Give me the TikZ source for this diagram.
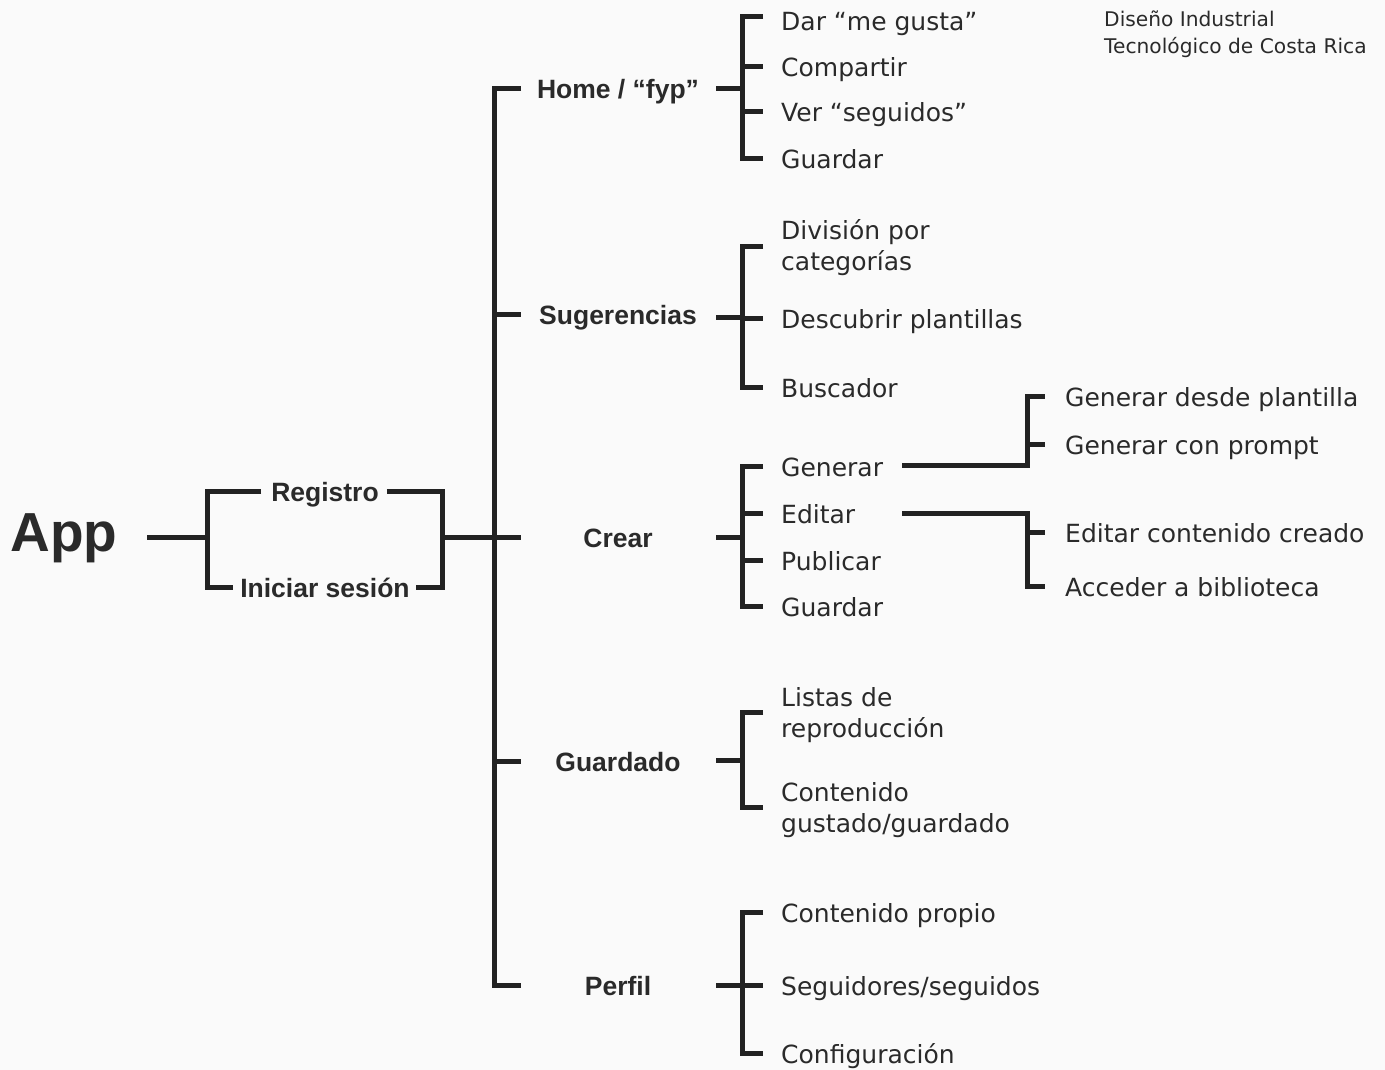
\documentclass[tikz,border=0pt]{standalone}
\usepackage{fontspec}
\setmainfont{DejaVu Sans}
\newfontfamily\labfont{Liberation Sans}
\definecolor{ink}{HTML}{2A2A2A}
\definecolor{lnc}{HTML}{222222}
\definecolor{bgc}{HTML}{FAFAFA}
\newcommand\twolines[2]{\begin{tabular}[t]{@{}l@{}}#1\\#2\end{tabular}}
\tikzset{
  ln/.style={line width=5pt, draw=lnc},
  leaf/.style={anchor=west, inner sep=0pt, text=ink, font=\fontsize{25}{31}\selectfont, text height=22pt, text depth=2pt},
  leaftwo/.style={leaf, text height=22pt, text depth=34pt},
  lab/.style={inner sep=0pt, text=ink, font=\labfont\bfseries\fontsize{26.5}{30}\selectfont, text height=22pt, text depth=2pt},
  credit/.style={anchor=base west, inner sep=0pt, text=ink, font=\fontsize{20.2}{27}\selectfont},
  bigtitle/.style={anchor=base, inner sep=0pt, text=ink, font=\labfont\bfseries\fontsize{55}{60}\selectfont}
}
\begin{document}
\begin{tikzpicture}[x=1pt, y=-1pt]
\useasboundingbox (0,0) rectangle (1385,1070);
\fill[bgc] (0,0) rectangle (1385,1070);

% credit
\node[credit] (cr) at (1104,27) {\twolines{Diseño Industrial}{Tecnológico de Costa Rica}};

% App and login
\node[bigtitle] (app) at (64,551) {App};
\node[lab] (reg) at (325,491) {Registro};
\node[lab] (ini) at (325,587) {Iniciar sesión};
\coordinate (appout) at (147,537);
\coordinate (bl) at (207,537);
\coordinate (br) at (442,537);
\draw[ln] (appout) -- (bl);
\draw[ln] ([xshift=-10pt]reg.west) -| (bl) |- ([xshift=-7pt]ini.west);
\draw[ln] ([xshift=8pt]reg.east) -| (br) |- ([xshift=6pt]ini.east);

% trunk
\coordinate (tm) at (494,537);
\coordinate (t1) at (521,89);
\coordinate (t2) at (521,314);
\coordinate (t3) at (521,537);
\coordinate (t4) at (521,761);
\coordinate (t5) at (521,985);
\draw[ln] (t1) -| (tm) |- (t5);
\draw[ln] (tm |- t2) -- (t2);
\draw[ln] (br) -- (t3);
\draw[ln] (tm |- t4) -- (t4);

% section labels
\node[lab] (home) at (618,89) {Home / “fyp”};
\node[lab] (sug) at (618,314) {Sugerencias};
\node[lab] (crear) at (618,537) {Crear};
\node[lab] (guard) at (618,761) {Guardado};
\node[lab] (perf) at (618,985) {Perfil};

% Home group
\coordinate (hl) at (716,89);
\coordinate (hb) at (742,89);
\node[leaf] (d1) at (781,21) {Dar “me gusta”};
\node[leaf] (d2) at (781,67) {Compartir};
\node[leaf] (d3) at (781,112) {Ver “seguidos”};
\node[leaf] (d4) at (781,159) {Guardar};
\draw[ln] (hl) -- (hb);
\draw[ln] ([shift={(-18pt,4pt)}]d1.west) -| (hb) |- ([xshift=-18pt]d4.west);
\draw[ln] (hb |- d2.west) -- ([xshift=-18pt]d2.west);
\draw[ln] (hb |- d3.west) -- ([xshift=-18pt]d3.west);

% Sugerencias group
\coordinate (sl) at (716,317);
\coordinate (sb) at (742,317);
\node[leaftwo] (s1) at (781,246) {\twolines{División por}{categorías}};
\node[leaf] (s2) at (781,318) {Descubrir plantillas};
\node[leaf] (s3) at (781,387) {Buscador};
\draw[ln] (sl) -- (sb);
\draw[ln] ([xshift=-18pt]s1.west) -| (sb) |- ([xshift=-18pt]s3.west);
\draw[ln] (sb |- s2.west) -- ([xshift=-18pt]s2.west);

% Crear group
\coordinate (cl) at (716,537);
\coordinate (cb) at (742,537);
\node[leaf] (c1) at (781,466) {Generar};
\node[leaf] (c2) at (781,513) {Editar};
\node[leaf] (c3) at (781,560) {Publicar};
\node[leaf] (c4) at (781,606) {Guardar};
\draw[ln] (cl) -- (cb);
\draw[ln] ([xshift=-18pt]c1.west) -| (cb) |- ([xshift=-18pt]c4.west);
\draw[ln] (cb |- c2.west) -- ([xshift=-18pt]c2.west);
\draw[ln] (cb |- c3.west) -- ([xshift=-18pt]c3.west);

% Generar / Editar sub-branches
\node[leaf] (e1) at (1065,396) {Generar desde plantilla};
\node[leaf] (e2) at (1065,444) {Generar con prompt};
\node[leaf] (e3) at (1065,532) {Editar contenido creado};
\node[leaf] (e4) at (1065,586) {Acceder a biblioteca};
\coordinate (go) at (902,465);
\coordinate (gc) at (1027,465);
\coordinate (eo) at (902,513);
\coordinate (ec) at (1027,513);
\draw[ln] (go) -- (gc) |- ([xshift=-20pt]e1.west);
\draw[ln] (gc |- e2.west) -- ([xshift=-20pt]e2.west);
\draw[ln] (eo) -- (ec) |- ([xshift=-20pt]e4.west);
\draw[ln] (ec |- e3.west) -- ([xshift=-20pt]e3.west);

% Guardado group
\coordinate (gl) at (716,760);
\coordinate (gb) at (742,760);
\node[leaftwo] (g1) at (781,712) {\twolines{Listas de}{reproducción}};
\node[leaftwo] (g2) at (781,807) {\twolines{Contenido}{gustado/guardado}};
\draw[ln] (gl) -- (gb);
\draw[ln] ([xshift=-18pt]g1.west) -| (gb) |- ([xshift=-18pt]g2.west);

% Perfil group
\coordinate (pl) at (716,985);
\coordinate (pb) at (742,985);
\node[leaf] (p1) at (781,912) {Contenido propio};
\node[leaf] (p2) at (781,985) {Seguidores/seguidos};
\node[leaf] (p3) at (781,1053) {Configuración};
\draw[ln] (pl) -- (pb);
\draw[ln] ([xshift=-18pt]p1.west) -| (pb) |- ([xshift=-18pt]p3.west);
\draw[ln] (pb |- p2.west) -- ([xshift=-18pt]p2.west);
\end{tikzpicture}
\end{document}
